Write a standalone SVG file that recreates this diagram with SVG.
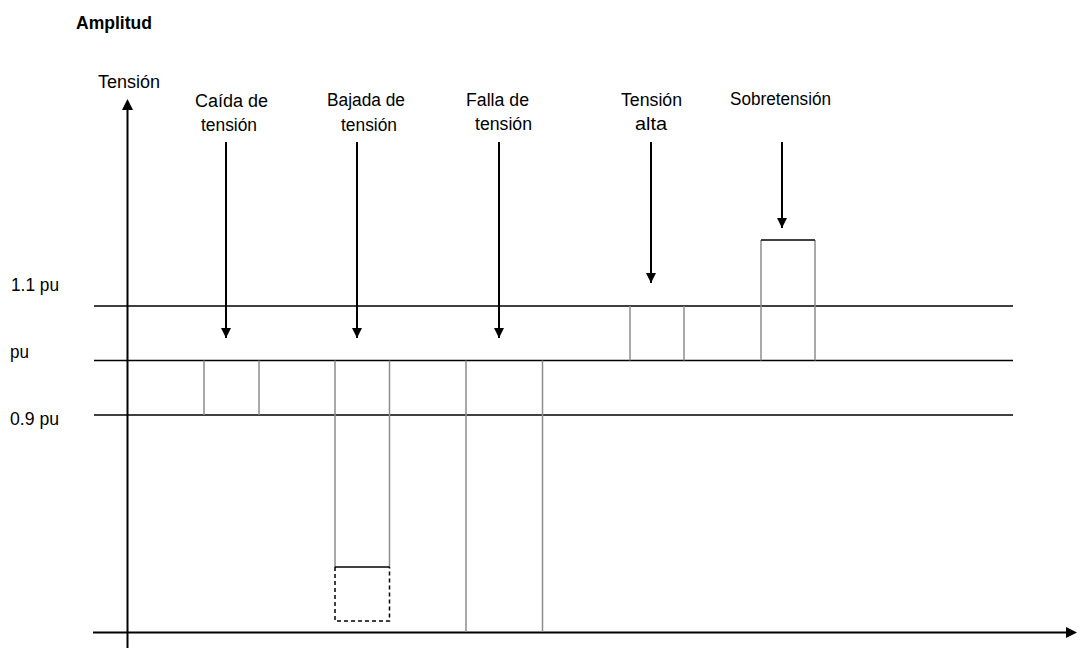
<svg xmlns="http://www.w3.org/2000/svg" width="1081" height="651" viewBox="0 0 1081 651">
<style>
  text { font-family: "Liberation Sans", Arial, sans-serif; font-size: 18px; fill: #000; }
  .b { font-weight: bold; }
  .ax { stroke: #000; stroke-width: 2; fill: none; }
  .h { stroke: #000; stroke-width: 1.5; fill: none; }
  .g { stroke: #8c8c8c; stroke-width: 1.5; fill: none; }
  .d { stroke: #000; stroke-width: 1.5; stroke-dasharray: 4 3; fill: none; }
  .ar { stroke: #000; stroke-width: 2; fill: none; marker-end: url(#ah); }
</style>
<defs>
  <marker id="ah" markerWidth="11" markerHeight="10" refX="10" refY="5" orient="auto" markerUnits="userSpaceOnUse">
    <path d="M0,0 L10,5 L0,10 Z" fill="#000"/>
  </marker>
</defs>
<rect width="1081" height="651" fill="#fff"/>

<g id="title"><text class="b" x="76" y="29" textLength="76" lengthAdjust="spacingAndGlyphs">Amplitud</text></g>

<g id="axes">
  <line class="ax" x1="127.5" y1="648" x2="127.5" y2="110"/>
  <path d="M122,110 L127.5,99 L133,110 Z" fill="#000"/>
  <line class="ax" x1="93" y1="632.5" x2="1066" y2="632.5"/>
  <path d="M1066,627 L1077,632.5 L1066,638 Z" fill="#000"/>
  <text x="98" y="88" textLength="62" lengthAdjust="spacingAndGlyphs">Tensión</text>
</g>

<g id="levels">
  <line class="h" x1="94" y1="306" x2="1013" y2="306"/>
  <line class="h" x1="94" y1="360.5" x2="1013" y2="360.5"/>
  <line class="h" x1="94" y1="415" x2="1013" y2="415"/>
  <text x="11" y="291" textLength="48" lengthAdjust="spacingAndGlyphs">1.1 pu</text>
  <text x="10" y="358" textLength="19" lengthAdjust="spacingAndGlyphs">pu</text>
  <text x="10" y="425" textLength="49" lengthAdjust="spacingAndGlyphs">0.9 pu</text>
</g>

<g id="caida">
  <text x="195" y="107" textLength="73" lengthAdjust="spacingAndGlyphs">Caída de</text>
  <text x="201" y="131" textLength="56" lengthAdjust="spacingAndGlyphs">tensión</text>
  <line class="g" x1="204" y1="360.5" x2="204" y2="415"/>
  <line class="g" x1="259" y1="360.5" x2="259" y2="415"/>
</g>

<g id="bajada">
  <text x="327" y="106" textLength="78" lengthAdjust="spacingAndGlyphs">Bajada de</text>
  <text x="341" y="131" textLength="56" lengthAdjust="spacingAndGlyphs">tensión</text>
  <line class="g" x1="335" y1="360.5" x2="335" y2="567"/>
  <line class="g" x1="389.5" y1="360.5" x2="389.5" y2="567"/>
  <line class="h" x1="335" y1="567" x2="389.5" y2="567"/>
  <path class="d" d="M335,567 L335,621 L389.5,621 L389.5,567"/>
</g>

<g id="falla">
  <text x="466" y="106" textLength="63" lengthAdjust="spacingAndGlyphs">Falla de</text>
  <text x="475" y="130" textLength="57" lengthAdjust="spacingAndGlyphs">tensión</text>
  <line class="g" x1="466" y1="360.5" x2="466" y2="632"/>
  <line class="g" x1="542.5" y1="360.5" x2="542.5" y2="632"/>
</g>

<g id="alta">
  <text x="621" y="106" textLength="61" lengthAdjust="spacingAndGlyphs">Tensión</text>
  <text x="635" y="130" textLength="32" lengthAdjust="spacingAndGlyphs">alta</text>
  <line class="g" x1="630" y1="306" x2="630" y2="360.5"/>
  <line class="g" x1="684" y1="306" x2="684" y2="360.5"/>
</g>

<g id="sobre">
  <text x="730" y="105" textLength="101" lengthAdjust="spacingAndGlyphs">Sobretensión</text>
  <line class="g" x1="761" y1="240" x2="761" y2="360.5"/>
  <line class="g" x1="815" y1="240" x2="815" y2="360.5"/>
  <line class="h" x1="761" y1="240" x2="815" y2="240"/>
</g>

<g id="connectors">
  <line class="ar" x1="226" y1="142" x2="226" y2="338"/>
  <line class="ar" x1="357" y1="142" x2="357" y2="338"/>
  <line class="ar" x1="499" y1="142" x2="499" y2="338"/>
  <line class="ar" x1="651" y1="142" x2="651" y2="283"/>
  <line class="ar" x1="782" y1="142" x2="782" y2="228"/>
</g>
</svg>
